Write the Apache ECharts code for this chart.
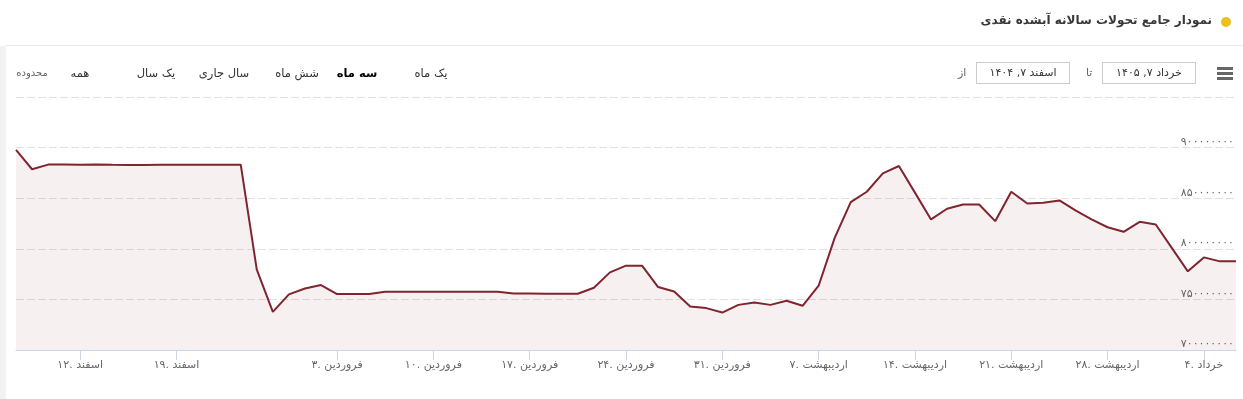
<!DOCTYPE html>
<html>
<head>
<meta charset="utf-8">
<script src="https://cdn.jsdelivr.net/npm/echarts@6/dist/echarts.min.js"></script>
<style>
  html, body { margin: 0; padding: 0; background: #fff; }
  body { width: 1243px; height: 399px; position: relative; overflow: hidden; font-family: "DejaVu Sans", "Noto Sans", sans-serif; }
  #strip { position: absolute; left: 0; top: 46px; width: 6px; height: 353px; background: #f2f2f2; }
  #sep { position: absolute; left: 6px; right: 0; top: 45px; height: 1px; background: #e8e8e8; }
  #title { position: absolute; right: 31px; top: 13px; font-size: 12px; font-weight: bold; color: #383838; direction: rtl; white-space: nowrap; }
  #dot { position: absolute; left: 1221px; top: 17px; width: 10px; height: 10px; border-radius: 50%; background: #ecc11c; }
  #chart { position: absolute; left: 0; top: 0; width: 1243px; height: 399px; }
  .btn { position: absolute; top: 65px; width: 80px; text-align: center; font-size: 11.5px; color: #333; direction: rtl; white-space: nowrap; line-height: 16px; }
  .box { position: absolute; top: 62px; width: 92px; height: 20px; border: 1px solid #cccccc; font-size: 11px; color: #333; text-align: center; line-height: 20px; direction: rtl; white-space: nowrap; background: #fff; }
  .lbl { position: absolute; top: 65px; font-size: 11px; color: #666; direction: rtl; line-height: 16px; }
  #menu { position: absolute; left: 1217px; top: 67px; width: 16px; }
  #menu div { height: 2.6px; background: #666; margin-bottom: 2.4px; }
</style>
</head>
<body>
<div id="chart"></div>
<div id="strip"></div>
<div id="sep"></div>
<div id="title">نمودار جامع تحولات سالانه آبشده نقدی</div>
<div id="dot"></div>
<div id="selector"></div>
<div class="lbl" style="left:958px;">از</div>
<div class="box" style="left:976px;">اسفند ۷, ۱۴۰۴</div>
<div class="lbl" style="left:1086px;">تا</div>
<div class="box" style="left:1102px;">خرداد ۷, ۱۴۰۵</div>
<div id="menu"><div></div><div></div><div></div></div>
<script>
// ---- data ----
const categories = [
  'اسفند ۷','اسفند ۹','اسفند ۱۰','اسفند ۱۱','اسفند ۱۲','اسفند ۱۳','اسفند ۱۴','اسفند ۱۶','اسفند ۱۷','اسفند ۱۸',
  'اسفند ۱۹','اسفند ۲۰','اسفند ۲۱','اسفند ۲۳','اسفند ۲۴','اسفند ۲۵','اسفند ۲۶','اسفند ۲۷','اسفند ۲۸',
  'فروردین ۲','فروردین ۳','فروردین ۴','فروردین ۵','فروردین ۶','فروردین ۸','فروردین ۹','فروردین ۱۰','فروردین ۱۱',
  'فروردین ۱۲','فروردین ۱۳','فروردین ۱۵','فروردین ۱۶','فروردین ۱۷','فروردین ۱۸','فروردین ۱۹','فروردین ۲۰',
  'فروردین ۲۲','فروردین ۲۳','فروردین ۲۴','فروردین ۲۵','فروردین ۲۶','فروردین ۲۷','فروردین ۲۹','فروردین ۳۰','فروردین ۳۱',
  'اردیبهشت ۱','اردیبهشت ۲','اردیبهشت ۳','اردیبهشت ۵','اردیبهشت ۶','اردیبهشت ۷','اردیبهشت ۸','اردیبهشت ۹',
  'اردیبهشت ۱۰','اردیبهشت ۱۲','اردیبهشت ۱۳','اردیبهشت ۱۴','اردیبهشت ۱۵','اردیبهشت ۱۶','اردیبهشت ۱۷','اردیبهشت ۱۹',
  'اردیبهشت ۲۰','اردیبهشت ۲۱','اردیبهشت ۲۲','اردیبهشت ۲۳','اردیبهشت ۲۴','اردیبهشت ۲۶','اردیبهشت ۲۷','اردیبهشت ۲۸',
  'اردیبهشت ۲۹','اردیبهشت ۳۰','اردیبهشت ۳۱',
  'خرداد ۲','خرداد ۳','خرداد ۴','خرداد ۵','خرداد ۶'
];
const values = [
  897700000, 878600000, 883200000, 883200000, 883000000, 883200000, 883000000, 882900000, 882900000, 883100000,
  883000000, 883000000, 883100000, 883100000, 883100000, 779400000, 737700000, 755000000, 760800000,
  764200000, 755300000, 755300000, 755300000, 757500000, 757500000, 757500000, 757500000, 757500000,
  757500000, 757500000, 757500000, 755900000, 755900000, 755600000, 755600000, 755600000,
  761500000, 776700000, 783300000, 783300000, 762200000, 757800000, 743000000, 741400000, 737000000,
  744600000, 746900000, 744600000, 748600000, 743700000, 763500000, 810800000, 846100000,
  856400000, 874600000, 881800000, 855500000, 829000000, 839600000, 843800000, 843800000,
  827300000, 856400000, 844800000, 845500000, 847800000, 837900000, 829000000, 821300000,
  816800000, 826700000, 824000000,
  800900000, 777700000, 791500000, 787600000, 787600000
];
const tickLabels = ['اسفند ۱۲','اسفند ۱۹','فروردین ۳','فروردین ۱۰','فروردین ۱۷','فروردین ۲۴','فروردین ۳۱',
  'اردیبهشت ۷','اردیبهشت ۱۴','اردیبهشت ۲۱','اردیبهشت ۲۸','خرداد ۴'];
const yMin = 700000000, yMax = 950000000, yStep = 50000000;
const rangeButtons = ['محدوده','همه','یک سال','سال جاری','شش ماه','سه ماه','یک ماه'];
const rangeCenters = [32, 80, 156, 224, 297, 357, 431];
const selectedRange = 'سه ماه';

// ---- range selector (HTML text) ----
const sel = document.getElementById('selector');
rangeButtons.forEach((t, i) => {
  const d = document.createElement('div');
  d.className = 'btn';
  d.style.left = (rangeCenters[i] - 40) + 'px';
  d.textContent = t;
  if (i === 0) { d.style.fontSize = '10px'; d.style.color = '#666'; }
  if (t === selectedRange) { d.style.fontWeight = 'bold'; d.style.color = '#000'; }
  sel.appendChild(d);
});

const fa = s => String(s).replace(/\d/g, d => '۰۱۲۳۴۵۶۷۸۹'[d]);
const tickIdx = tickLabels.map(t => categories.indexOf(t));
const isTick = i => tickIdx.indexOf(i) >= 0;

const chart = echarts.init(document.getElementById('chart'), null, { renderer: 'canvas' });
chart.setOption({
  animation: false,
  grid: { left: 16, right: 7, top: 97, bottom: 49, containLabel: false },
  xAxis: {
    type: 'category',
    data: categories,
    boundaryGap: false,
    axisLine: { lineStyle: { color: '#ccd6eb', width: 1 } },
    axisTick: { show: true, interval: (i) => isTick(i), length: 10, lineStyle: { color: '#ccd6eb' } },
    axisLabel: {
      interval: (i) => isTick(i),
      margin: 10,
      fontSize: 11,
      color: '#666',
      fontFamily: 'DejaVu Sans',
      formatter: v => {
        const p = v.split(' ');
        return p[1] + '. ' + p[0];
      }
    },
    splitLine: { show: false }
  },
  yAxis: {
    type: 'value',
    position: 'right',
    min: yMin, max: yMax, interval: yStep,
    axisLine: { show: false },
    axisTick: { show: false },
    axisLabel: {
      inside: true,
      showMaxLabel: false,
      margin: 2,
      verticalAlign: 'bottom',
      fontSize: 11,
      color: '#666',
      fontFamily: 'DejaVu Sans',
      formatter: v => fa(v)
    },
    splitLine: { show: true, lineStyle: { color: '#e0e0e0', type: [8, 3], width: 1 } }
  },
  series: [{
    type: 'line',
    data: values,
    symbol: 'none',
    lineStyle: { color: '#80242f', width: 2 },
    itemStyle: { color: '#80242f' },
    areaStyle: { color: 'rgba(128,36,48,0.1)', origin: 'start' }
  }]
});
</script>
</body>
</html>
